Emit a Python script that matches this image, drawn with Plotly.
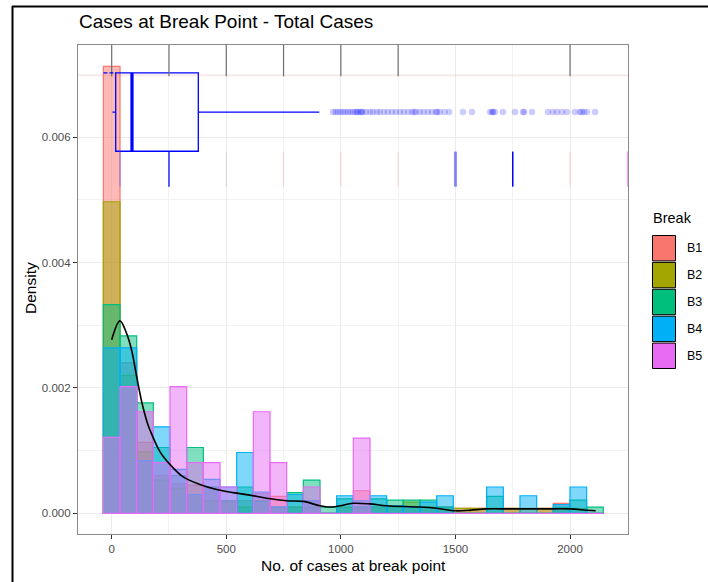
import plotly.graph_objects as go

# ---- histogram data: per-group density for 30 bins (centre = k * binwidth) ----
groups = ["B1", "B2", "B3", "B4", "B5"]
binwidth = 72.72
n_bins = 30
bin_centres = [k * binwidth for k in range(n_bins)]

dens_B1 = [0.00713, 0.00240, 0.00113, 0.00060, 0.00047, 0.00045, 0.00042, 0.00020, 0.00020, 0.00032,
           0.00027, 0.00010, 0.00020, 0.0, 0.00010, 0.00036, 0.00010, 0.00010, 0.00010, 0.00010,
           0.00010, 0.00008, 0.00008, 0.0, 0.00008, 0.0, 0.00008, 0.00016, 0.0, 0.0]
dens_B2 = [0.00497, 0.00220, 0.00098, 0.00053, 0.00040, 0.00030, 0.00020, 0.00020, 0.00010, 0.00020,
           0.00010, 0.00010, 0.00010, 0.0, 0.00010, 0.00010, 0.00010, 0.00010, 0.00018, 0.00010,
           0.00010, 0.00008, 0.00008, 0.00008, 0.00008, 0.00008, 0.00008, 0.00008, 0.00008, 0.0]
dens_B3 = [0.00333, 0.00283, 0.00176, 0.00105, 0.00060, 0.00105, 0.00042, 0.00020, 0.00042, 0.00019,
           0.00010, 0.00033, 0.00053, 0.00010, 0.00023, 0.00010, 0.00023, 0.00021, 0.00021, 0.00021,
           0.00010, 0.0, 0.0, 0.00027, 0.0, 0.0, 0.0, 0.00010, 0.00021, 0.00010]
dens_B4 = [0.00264, 0.00264, 0.00084, 0.00138, 0.00070, 0.00030, 0.00054, 0.00042, 0.00097, 0.00034,
           0.00010, 0.00030, 0.00020, 0.0, 0.00028, 0.00020, 0.00028, 0.00012, 0.00010, 0.00018,
           0.00028, 0.0, 0.0, 0.00042, 0.0, 0.00028, 0.0, 0.00014, 0.00042, 0.0]
dens_B5 = [0.00121, 0.00202, 0.00162, 0.00081, 0.00202, 0.00081, 0.00081, 0.00042, 0.0, 0.00162,
           0.00081, 0.0, 0.00042, 0.0, 0.0, 0.00120, 0.0, 0.0, 0.0, 0.0,
           0.0, 0.0, 0.0, 0.0, 0.0, 0.0, 0.0, 0.0, 0.0, 0.0]
group_density = [dens_B1, dens_B2, dens_B3, dens_B4, dens_B5]

# ---- overall kernel density curve ----
kde_x = [0, 36, 65, 87, 109, 131, 155, 167, 211, 254, 312, 385, 458, 530, 603, 676, 763, 836,
         909, 952, 996, 1054, 1127, 1200, 1345, 1418, 1501, 1563, 1636, 1738, 1883, 2000, 2072, 2112]
kde_y = [0.00277, 0.00307, 0.00287, 0.00260, 0.00218, 0.00178, 0.00145, 0.00133, 0.00098, 0.00078,
         0.00058, 0.00046, 0.00038, 0.00033, 0.00029, 0.00024, 0.00020, 0.00019, 0.00012, 0.00010,
         0.00012, 0.00016, 0.00015, 0.00012, 0.00010, 0.00008, 0.00004, 0.00005, 0.00007, 0.00007,
         0.00007, 0.00007, 0.00005, 0.00004]

# ---- boxplot summary of all cases ----
box_pos = 0.0064
box_height = 0.00125
box_lowerfence = 3
box_q1 = 17.5
box_median = 88.6
box_q3 = 378
box_upperfence = 906
outliers = [966, 977, 987, 998, 1009, 1020, 1031, 1042, 1053, 1064, 1070, 1075, 1086, 1090, 1096, 1110,
            1127, 1140, 1157, 1170, 1188, 1205, 1223, 1240, 1258, 1275, 1293, 1310, 1320, 1328, 1345,
            1362, 1380, 1397, 1415, 1420, 1432, 1453, 1473, 1533, 1572, 1651, 1660, 1664, 1672, 1707,
            1760, 1795, 1800, 1834, 1904, 1925, 1943, 1965, 1986, 2021, 2043, 2050, 2061, 2074, 2109]

# ---- rug-like segments drawn above the histogram ----
upper_rug_x = [0, 250, 500, 750, 1000, 1250, 2000]
upper_rug_y = (0.00697, 0.00747)
lower_rug_x = [36, 250, 500, 750, 1000, 1250, 1500, 1750, 2000, 2252]
lower_rug_y = (0.00521, 0.00577)
guide_y = 0.00698

x_ticks = [0, 500, 1000, 1500, 2000]
y_ticks = [0.000, 0.002, 0.004, 0.006]

# ---- styling ----
fill_rgb = ["248,118,109", "163,165,0", "0,191,125", "0,176,246", "231,107,243"]
lower_rug_colors = ["rgba(130,110,240,0.55)", "rgba(0,0,255,0.85)", "rgba(150,150,150,0.3)",
                    "rgba(248,118,109,0.3)", "rgba(248,118,109,0.3)", "rgba(248,118,109,0.3)",
                    "rgba(0,0,255,0.45)", "rgba(0,0,255,1)", "rgba(248,118,109,0.3)",
                    "rgba(231,107,243,0.6)"]
lower_rug_widths = [1.5, 1.5, 1, 1, 1, 1, 3, 1.5, 1, 2]
FONT = "Liberation Sans, Arial, sans-serif"

fig = go.Figure()

for name, dens, rgb in zip(groups, group_density, fill_rgb):
    fig.add_trace(go.Bar(
        x=bin_centres, y=dens, width=binwidth, name=name,
        marker=dict(color=f"rgba({rgb},0.5)", line=dict(color=f"rgb({rgb})", width=1.2)),
        showlegend=False, hoverinfo="skip"))

# faint guide line and segments
fig.add_trace(go.Scatter(x=[-147, 2253], y=[guide_y, guide_y], mode="lines",
                         line=dict(color="rgba(248,118,109,0.22)", width=1), showlegend=False))
rx, ry = [], []
for xv in upper_rug_x:
    rx += [xv, xv, None]
    ry += [upper_rug_y[0], upper_rug_y[1], None]
fig.add_trace(go.Scatter(x=rx, y=ry, mode="lines", line=dict(color="#6e6e6e", width=1.2),
                         showlegend=False))
for xv, col, w in zip(lower_rug_x, lower_rug_colors, lower_rug_widths):
    fig.add_trace(go.Scatter(x=[xv, xv], y=list(lower_rug_y), mode="lines",
                             line=dict(color=col, width=w), showlegend=False))

# density curve
fig.add_trace(go.Scatter(x=kde_x, y=kde_y, mode="lines", line=dict(color="black", width=1.6, shape="spline"),
                         showlegend=False))

# horizontal boxplot
fig.add_trace(go.Box(
    y=[box_pos], q1=[box_q1], median=[box_median], q3=[box_q3],
    lowerfence=[box_lowerfence], upperfence=[box_upperfence],
    orientation="h", width=box_height, boxpoints=False, whiskerwidth=0,
    fillcolor="rgba(0,0,0,0)", line=dict(color="#0000FF", width=1.3), showlegend=False))
fig.add_trace(go.Scatter(x=[box_median, box_median],
                         y=[box_pos - box_height / 2, box_pos + box_height / 2],
                         mode="lines", line=dict(color="#0000FF", width=3.2), showlegend=False))
fig.add_trace(go.Scatter(x=[-36, box_q1], y=[box_pos + box_height / 2] * 2, mode="lines",
                         line=dict(color="#0000FF", width=1.2, dash="4px,2px"), showlegend=False))
fig.add_trace(go.Scatter(x=outliers, y=[box_pos] * len(outliers), mode="markers",
                         marker=dict(color="rgba(0,0,255,0.2)", size=6.5, line=dict(width=0)),
                         showlegend=False))

W, H = 708, 582
ML, MR, MT, MB = 78, 80, 45, 48
PW, PH = W - ML - MR, H - MT - MB


def px(x):
    return (x - ML) / PW


def py(y):
    return 1 - (y - MT) / PH


axis_common = dict(showline=True, mirror=True, linecolor="#8a8a8a", linewidth=1.2,
                   ticks="outside", ticklen=4, tickcolor="#333333", tickwidth=1,
                   gridcolor="#EBEBEB", gridwidth=1, zeroline=False,
                   tickfont=dict(family=FONT, size=11.5, color="#4D4D4D"))

fig.update_layout(
    width=W, height=H, margin=dict(l=ML, r=MR, t=MT, b=MB),
    paper_bgcolor="white", plot_bgcolor="white", barmode="overlay",
    xaxis=dict(range=[-147, 2253], tickvals=x_ticks, ticktext=[str(v) for v in x_ticks],
               minor=dict(tickvals=[-250, 250, 750, 1250, 1750], showgrid=True,
                          gridcolor="#F2F2F2", gridwidth=1, ticks=""),
               **axis_common),
    yaxis=dict(range=[-0.00033, 0.00747], tickvals=y_ticks, ticktext=[f"{v:.3f}" for v in y_ticks],
               minor=dict(tickvals=[0.001, 0.003, 0.005, 0.007], showgrid=True,
                          gridcolor="#F2F2F2", gridwidth=1, ticks=""),
               **axis_common),
    font=dict(family=FONT),
)

annotations = [
    dict(text="Cases at Break Point - Total Cases", x=px(77), y=py(22), xanchor="left", yanchor="middle",
         font=dict(size=19, color="black")),
    dict(text="Density", x=px(30), y=py(288), textangle=-90, xanchor="center", yanchor="middle",
         font=dict(size=15.5, color="black")),
    dict(text="No. of cases at break point", x=px(353), y=py(565), xanchor="center", yanchor="middle",
         font=dict(size=15.5, color="black")),
    dict(text="Break", x=px(651), y=py(218), xanchor="left", yanchor="middle",
         font=dict(size=14.5, color="black")),
]

shapes = [
    # outer frame
    dict(type="line", xref="paper", yref="paper", x0=px(12.5), x1=px(12.5), y0=py(6), y1=py(600),
         line=dict(color="black", width=2)),
    dict(type="line", xref="paper", yref="paper", x0=px(12), x1=px(720), y0=py(6.5), y1=py(6.5),
         line=dict(color="black", width=2)),
]

key_top = 235.5
key_h = 26.9
for i, (name, rgb) in enumerate(zip(groups, fill_rgb)):
    y0 = key_top + i * key_h
    shapes.append(dict(type="rect", xref="paper", yref="paper",
                       x0=px(652.5), x1=px(675.5), y0=py(y0 + key_h - 1.5), y1=py(y0),
                       fillcolor=f"rgb({rgb})", line=dict(color="black", width=1)))
    annotations.append(dict(text=name, x=px(685), y=py(y0 + key_h / 2 - 0.5), xanchor="left",
                            yanchor="middle", font=dict(size=12.5, color="black")))

for a in annotations:
    a.update(xref="paper", yref="paper", showarrow=False)

fig.update_layout(annotations=annotations, shapes=shapes)
fig.write_html("out.html")
